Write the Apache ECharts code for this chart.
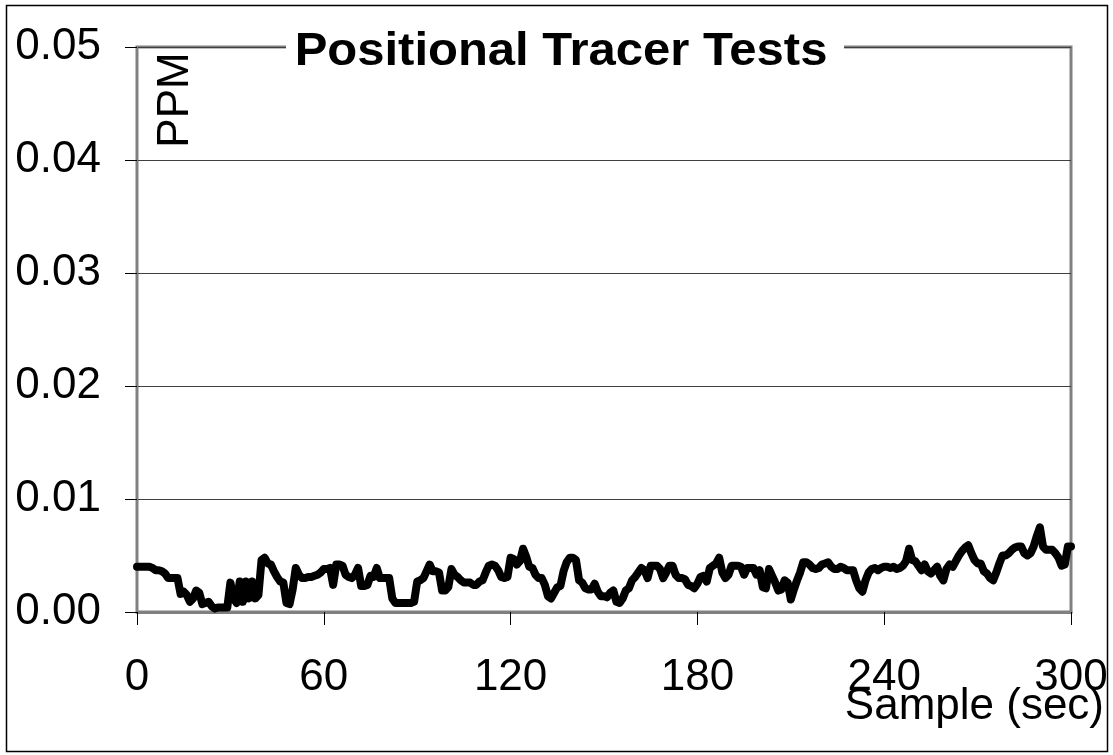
<!DOCTYPE html>
<html>
<head>
<meta charset="utf-8">
<script src="https://cdn.jsdelivr.net/npm/echarts@6/dist/echarts.min.js"></script>
<style>
  html, body { margin: 0; padding: 0; background: #fff; }
  #chart { width: 1113px; height: 755px; }
</style>
</head>
<body>
<div id="chart"></div>
<script>
// PPM reading, one value per second, 0..300 s
const ppmValues = [
  0.004, 0.004, 0.004, 0.004, 0.004, 0.0039, 0.0037, 0.0037, 0.0036, 0.0034,
  0.003, 0.003, 0.003, 0.003, 0.0016, 0.0018, 0.0015, 0.0009, 0.0012, 0.0019,
  0.0017, 0.0007, 0.0008, 0.0009, 0.0005, 0.0003, 0.0004, 0.0004, 0.0004, 0.0004,
  0.0026, 0.0012, 0.0008, 0.0027, 0.0009, 0.0027, 0.0012, 0.0027, 0.0012, 0.0015,
  0.0046, 0.0048, 0.0043, 0.0042, 0.0036, 0.0031, 0.0027, 0.0026, 0.0008, 0.0007,
  0.002, 0.0039, 0.0033, 0.003, 0.003, 0.0031, 0.0031, 0.0032, 0.0033, 0.0035,
  0.0038, 0.0038, 0.0039, 0.0024, 0.0042, 0.0042, 0.0041, 0.0033, 0.0031, 0.003,
  0.0033, 0.0039, 0.0023, 0.0023, 0.0024, 0.0032, 0.0031, 0.0039, 0.003, 0.003,
  0.003, 0.003, 0.0012, 0.0008, 0.0008, 0.0008, 0.0008, 0.0008, 0.0008, 0.0009,
  0.0027, 0.0028, 0.003, 0.0036, 0.0042, 0.0036, 0.0036, 0.0035, 0.0019, 0.0019,
  0.0022, 0.0038, 0.0033, 0.0031, 0.0028, 0.0026, 0.0026, 0.0026, 0.0024, 0.0024,
  0.0027, 0.0028, 0.0035, 0.0041, 0.0042, 0.0041, 0.0037, 0.0031, 0.003, 0.0031,
  0.0048, 0.0047, 0.0042, 0.0045, 0.0056, 0.0049, 0.004, 0.0039, 0.0033, 0.003,
  0.003, 0.0024, 0.0014, 0.0012, 0.0017, 0.0022, 0.0023, 0.0036, 0.0044, 0.0048,
  0.0048, 0.0046, 0.0028, 0.0026, 0.0021, 0.002, 0.002, 0.0025, 0.0018, 0.0014,
  0.0014, 0.0013, 0.0017, 0.0019, 0.0009, 0.0008, 0.0012, 0.0019, 0.0021, 0.0028,
  0.0031, 0.0035, 0.0039, 0.0037, 0.003, 0.0041, 0.0041, 0.0041, 0.0038, 0.003,
  0.0035, 0.0041, 0.0041, 0.0033, 0.003, 0.003, 0.0029, 0.0024, 0.0023, 0.0021,
  0.0025, 0.0031, 0.0032, 0.0027, 0.0039, 0.0041, 0.0043, 0.0048, 0.0035, 0.003,
  0.0033, 0.0041, 0.0041, 0.0041, 0.004, 0.0033, 0.0039, 0.0039, 0.0039, 0.0033,
  0.0037, 0.0022, 0.0021, 0.0038, 0.0032, 0.0026, 0.0019, 0.002, 0.0028, 0.0026,
  0.0011, 0.002, 0.0028, 0.0035, 0.0044, 0.0044, 0.0042, 0.0039, 0.0038, 0.0039,
  0.0042, 0.0043, 0.0044, 0.004, 0.0038, 0.0038, 0.004, 0.0039, 0.0037, 0.0037,
  0.0037, 0.0028, 0.0021, 0.0018, 0.0028, 0.0035, 0.0038, 0.0039, 0.0037, 0.0039,
  0.004, 0.004, 0.0039, 0.004, 0.0038, 0.0039, 0.0041, 0.0045, 0.0056, 0.0046,
  0.0045, 0.0041, 0.0037, 0.0042, 0.0036, 0.0034, 0.0037, 0.004, 0.0032, 0.0028,
  0.0038, 0.0042, 0.004, 0.0045, 0.005, 0.0054, 0.0057, 0.0059, 0.0052, 0.0046,
  0.0043, 0.0043, 0.0036, 0.0034, 0.003, 0.0028, 0.0035, 0.0043, 0.005, 0.005,
  0.0052, 0.0055, 0.0057, 0.0058, 0.0058, 0.0052, 0.005, 0.0052, 0.0058, 0.0067,
  0.0075, 0.0058, 0.0055, 0.0055, 0.0055, 0.0052, 0.0048, 0.0041, 0.0042, 0.0058,
  0.0058
]
const sampleStep = 1 // seconds between readings
const xRange = [0, 300]
const xStep = 60
const yRange = [0, 0.05]
const yStep = 0.01

const FONT = '"Liberation Sans", Arial, sans-serif'

const chart = echarts.init(document.getElementById('chart'))

const points = ppmValues.map((v, i) => [i * sampleStep, v])

const option = {
  animation: false,
  backgroundColor: '#fff',
  grid: {
    left: 137,
    top: 47,
    right: 42,
    bottom: 143,
    show: true,
    borderColor: '#808080',
    borderWidth: 3,
    backgroundColor: 'transparent'
  },
  xAxis: {
    type: 'value',
    min: xRange[0],
    max: xRange[1],
    interval: xStep,
    axisLine: { show: true, lineStyle: { color: '#808080', width: 3 } },
    axisTick: { show: true, inside: false, length: 13, lineStyle: { color: '#000', width: 1 } },
    splitLine: { show: false },
    axisLabel: {
      margin: 44,
      color: '#000',
      fontFamily: FONT,
      fontSize: 44
    }
  },
  yAxis: {
    type: 'value',
    min: yRange[0],
    max: yRange[1],
    interval: yStep,
    axisLine: { show: true, lineStyle: { color: '#808080', width: 2 } },
    axisTick: { show: true, inside: false, length: 12, lineStyle: { color: '#000', width: 1 } },
    splitLine: { show: true, lineStyle: { color: '#404040', width: 1 } },
    axisLabel: {
      margin: 36,
      color: '#000',
      fontFamily: FONT,
      fontSize: 44,
      formatter: v => v.toFixed(2)
    }
  },
  series: [{
    type: 'line',
    data: points,
    symbol: 'none',
    smooth: false,
    clip: false,
    lineStyle: { color: '#000', width: 8, join: 'round', cap: 'round' }
  }],
  graphic: [
    {
      type: 'rect',
      shape: { x: 6.5, y: 5.5, width: 1101, height: 746 },
      style: { fill: 'none', stroke: '#000', lineWidth: 1.5 },
      z: -10
    },
    {
      // gap in the top frame behind the title
      type: 'rect',
      shape: { x: 286, y: 40, width: 558, height: 16 },
      style: { fill: '#fff' },
      z: 50
    },
    {
      type: 'text',
      x: 561,
      y: 52,
      scaleX: 1.065,
      z: 51,
      style: {
        text: 'Positional Tracer Tests',
        fontFamily: FONT,
        fontSize: 46,
        fontWeight: 'bold',
        fill: '#000',
        align: 'center',
        verticalAlign: 'middle'
      }
    },
    {
      type: 'text',
      x: 176,
      y: 100,
      rotation: Math.PI / 2,
      style: {
        text: 'PPM',
        fontFamily: FONT,
        fontSize: 44,
        fill: '#000',
        align: 'center',
        verticalAlign: 'middle'
      }
    },
    {
      type: 'text',
      x: 1104,
      y: 707,
      style: {
        text: 'Sample (sec)',
        fontFamily: FONT,
        fontSize: 44,
        fill: '#000',
        align: 'right',
        verticalAlign: 'middle'
      }
    }
  ]
}

chart.setOption(option)
</script>
</body>
</html>
